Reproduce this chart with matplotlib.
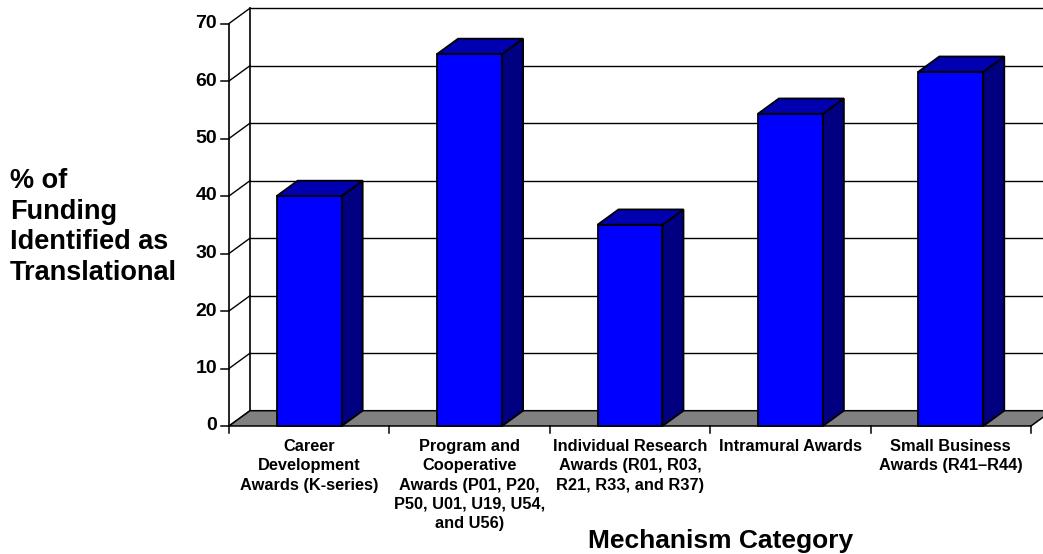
import matplotlib
matplotlib.use("Agg")
import matplotlib.pyplot as plt
from matplotlib.patches import Polygon

plt.rcParams['font.family'] = ['Liberation Sans', 'DejaVu Sans']

# ---- data -------------------------------------------------------------
categories = [
    "Career\nDevelopment\nAwards (K-series)",
    "Program and\nCooperative\nAwards (P01, P20,\nP50, U01, U19, U54,\nand U56)",
    "Individual Research\nAwards (R01, R03,\nR21, R33, and R37)",
    "Intramural Awards",
    "Small Business\nAwards (R41\u2013R44)",
]
pct_translational = [40.0, 64.7, 35.0, 54.3, 61.6]
y_ticks = [0, 10, 20, 30, 40, 50, 60, 70]
y_label = "% of\nFunding\nIdentified as\nTranslational"
x_label = "Mechanism Category"

# ---- layout (figure pixels) ------------------------------------------
W, H = 1043, 554
AX_L, AX_R = 229, 1031          # front category axis, left/right ends
Y0, YTOP = 426, 23.5            # front value axis, 0 and 70
n = len(categories)
ux = (AX_R - AX_L) / n          # px per category
uy = (Y0 - YTOP) / 70.0         # px per value unit
DX = 21 / ux                    # depth offset (category units)
DY = 15.3 / uy                  # depth offset (value units)
bar_half = 0.2025

fig = plt.figure(figsize=(W / 100, H / 100), dpi=100)
ax = fig.add_axes([0, 0, 1, 1])
ax.set_xlim(-0.5 - AX_L / ux, -0.5 + (W - AX_L) / ux)
ax.set_ylim(-(H - Y0) / uy, Y0 / uy)
ax.axis('off')


def px(x, y):
    """figure pixel (from top-left) -> data coordinates"""
    return -0.5 + (x - AX_L) / ux, (Y0 - y) / uy


xl, xr = -0.5, n - 0.5
ymax = y_ticks[-1]

# back wall gridlines
for v in y_ticks[1:]:
    ax.plot([xl + DX, xr + DX], [v + DY, v + DY], color='black', lw=1.0, zorder=2)
# left wall: back edge, front axis and diagonals
ax.plot([xl + DX, xl + DX], [DY, ymax + DY], color='black', lw=1.2, zorder=2)
ax.plot([xl, xl], [0, ymax], color='black', lw=1.2, zorder=2)
tx, _ = px(217, 0)
for v in y_ticks:
    ax.plot([xl, xl + DX], [v, v + DY], color='black', lw=1.0, zorder=2)
    ax.plot([xl - 8 / ux, xl], [v, v], color='black', lw=1.1, zorder=2)
    ax.text(tx, v, str(v), ha='right', va='center', fontsize=14,
            fontweight='bold', zorder=5)

# floor
floor = Polygon([(xl, 0), (xr, 0), (xr + DX, DY), (xl + DX, DY)],
                closed=True, facecolor='#808080', edgecolor='black',
                lw=1.1, zorder=3)
ax.add_patch(floor)

# category ticks
for i in range(n + 1):
    x = xl + i
    ax.plot([x, x], [0, -7 / uy], color='black', lw=1.1, zorder=3)

# 3-D columns
for i, v in enumerate(pct_translational):
    a, b = i - bar_half, i + bar_half
    front = Polygon([(a, 0), (b, 0), (b, v), (a, v)],
                    facecolor='#0000FF', edgecolor='black', lw=1.3, zorder=4)
    top = Polygon([(a, v), (b, v), (b + DX, v + DY), (a + DX, v + DY)],
                  facecolor='#0000B0', edgecolor='black', lw=1.3, zorder=4)
    side = Polygon([(b, 0), (b + DX, DY), (b + DX, v + DY), (b, v)],
                   facecolor='#000080', edgecolor='black', lw=1.3, zorder=4)
    for p in (side, top, front):
        ax.add_patch(p)

# category labels
_, ty = px(0, 439)
for i, lab in enumerate(categories):
    ax.text(i, ty, lab, ha='center', va='top', fontsize=11.8,
            fontweight='bold', linespacing=1.36, zorder=5)

# axis titles
lx, ly = px(10, 227)
ax.text(lx, ly, y_label, ha='left', va='center', fontsize=19.5,
        fontweight='bold', linespacing=1.22, zorder=5)
mx, my = px(721, 541)
ax.text(mx, my, x_label, ha='center', va='center', fontsize=19,
        fontweight='bold', zorder=5)

fig.savefig('out.png', dpi=100)
